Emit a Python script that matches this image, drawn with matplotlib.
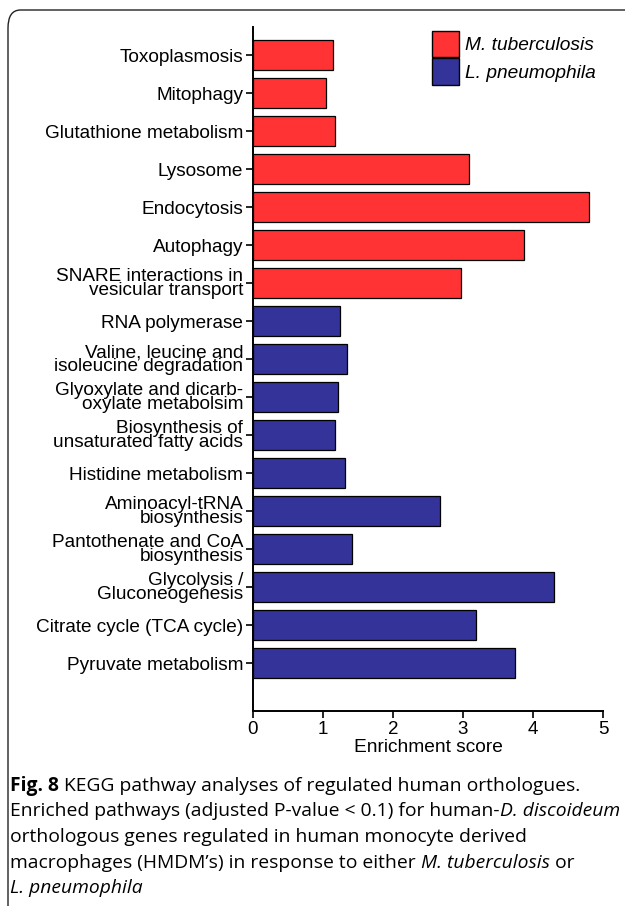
import matplotlib
matplotlib.use("Agg")
import matplotlib.pyplot as plt
from matplotlib.patches import Patch, FancyBboxPatch

RED = "#ff3333"
BLUE = "#333399"

PATHWAYS = [
    "Toxoplasmosis",
    "Mitophagy",
    "Glutathione metabolism",
    "Lysosome",
    "Endocytosis",
    "Autophagy",
    "SNARE interactions in\nvesicular transport",
    "RNA polymerase",
    "Valine, leucine and\nisoleucine degradation",
    "Glyoxylate and dicarb-\noxylate metabolsim",
    "Biosynthesis of\nunsaturated fatty acids",
    "Histidine metabolism",
    "Aminoacyl-tRNA\nbiosynthesis",
    "Pantothenate and CoA\nbiosynthesis",
    "Glycolysis /\nGluconeogenesis",
    "Citrate cycle (TCA cycle)",
    "Pyruvate metabolism",
]
SCORES = [1.14, 1.04, 1.17, 3.09, 4.80, 3.87, 2.97,
          1.24, 1.34, 1.21, 1.17, 1.31, 2.67, 1.41, 4.30, 3.19, 3.74]
ORGANISM = ["M"] * 7 + ["L"] * 10
XTICKS = [0, 1, 2, 3, 4, 5]

plt.rcParams["font.family"] = ["Liberation Sans", "DejaVu Sans"]

fig = plt.figure(figsize=(6.25, 9.06), dpi=100)
ax = fig.add_axes([253 / 625, 1 - 711 / 906, 350 / 625, (711 - 27) / 906])

colors = [RED if o == "M" else BLUE for o in ORGANISM]
ypos = list(range(len(PATHWAYS)))
ax.barh(ypos, SCORES, height=0.8, color=colors, edgecolor="black", lw=0.9)
ax.set_ylim(len(PATHWAYS) - 1 + 1.26, -0.74)
ax.set_xlim(0, 5)
ax.set_yticks(ypos)
ax.set_yticklabels(PATHWAYS, fontsize=13.7, linespacing=0.78,
                   multialignment="right")
ax.set_xticks(XTICKS)
ax.tick_params(axis="x", labelsize=13.5, length=5, width=1.2, pad=2)
ax.tick_params(axis="y", length=5, width=1.2, pad=2)
ax.set_xlabel("Enrichment score", fontsize=13.8, labelpad=1)
for s in ("top", "right"):
    ax.spines[s].set_visible(False)
for s in ("left", "bottom"):
    ax.spines[s].set_linewidth(1.4)

handles = [Patch(facecolor=RED, edgecolor="black", label="M. tuberculosis"),
           Patch(facecolor=BLUE, edgecolor="black", label="L. pneumophila")]
leg = ax.legend(handles=handles, loc="upper left",
                bbox_to_anchor=(179 / 350, 1 - 4 / 684), frameon=False,
                prop={"style": "italic", "size": 13.8},
                handlelength=1.4, handleheight=1.75, labelspacing=0.05,
                handletextpad=0.3, borderaxespad=0, borderpad=0)

# rounded frame around the panel
frame = FancyBboxPatch((8 / 625, -0.1), 1.2, (906 - 10) / 906 + 0.1,
                       boxstyle="round,pad=0,rounding_size=0.02",
                       transform=fig.transFigure, fill=False,
                       edgecolor="#222222", lw=1.0)
fig.patches.append(frame)

# caption
cap_font = ["Open Sans", "DejaVu Sans"]
cap_size = 13.9
y0 = 1 - 786 / 906
dy = 25.5 / 906
x0 = 10 / 625
t = fig.text(x0, y0, "Fig. 8", fontsize=cap_size, fontweight="bold",
             family=cap_font, va="center")
fig.canvas.draw()
bb = t.get_window_extent()
fig.text(bb.x1 / 625 + 0.008, y0,
         "KEGG pathway analyses of regulated human orthologues.",
         fontsize=cap_size, family=cap_font, va="center")
t2 = fig.text(x0, y0 - dy, "Enriched pathways (adjusted P-value < 0.1) for human-",
              fontsize=cap_size, family=cap_font, va="center")
fig.canvas.draw()
bb = t2.get_window_extent()
fig.text(bb.x1 / 625, y0 - dy, "D. discoideum", fontsize=cap_size,
         family=cap_font, style="italic", va="center")
fig.text(x0, y0 - 2 * dy, "orthologous genes regulated in human monocyte derived",
         fontsize=cap_size, family=cap_font, va="center")
t3 = fig.text(x0, y0 - 3 * dy,
              "macrophages (HMDM\u2019s) in response to either ",
              fontsize=cap_size, family=cap_font, va="center")
fig.canvas.draw()
bb = t3.get_window_extent()
t4 = fig.text(bb.x1 / 625, y0 - 3 * dy, "M. tuberculosis", fontsize=cap_size,
              family=cap_font, style="italic", va="center")
fig.canvas.draw()
bb = t4.get_window_extent()
fig.text(bb.x1 / 625, y0 - 3 * dy, " or", fontsize=cap_size,
         family=cap_font, va="center")
fig.text(x0, y0 - 4 * dy, "L. pneumophila", fontsize=cap_size,
         family=cap_font, style="italic", va="center")

fig.savefig("out.png", dpi=100)
